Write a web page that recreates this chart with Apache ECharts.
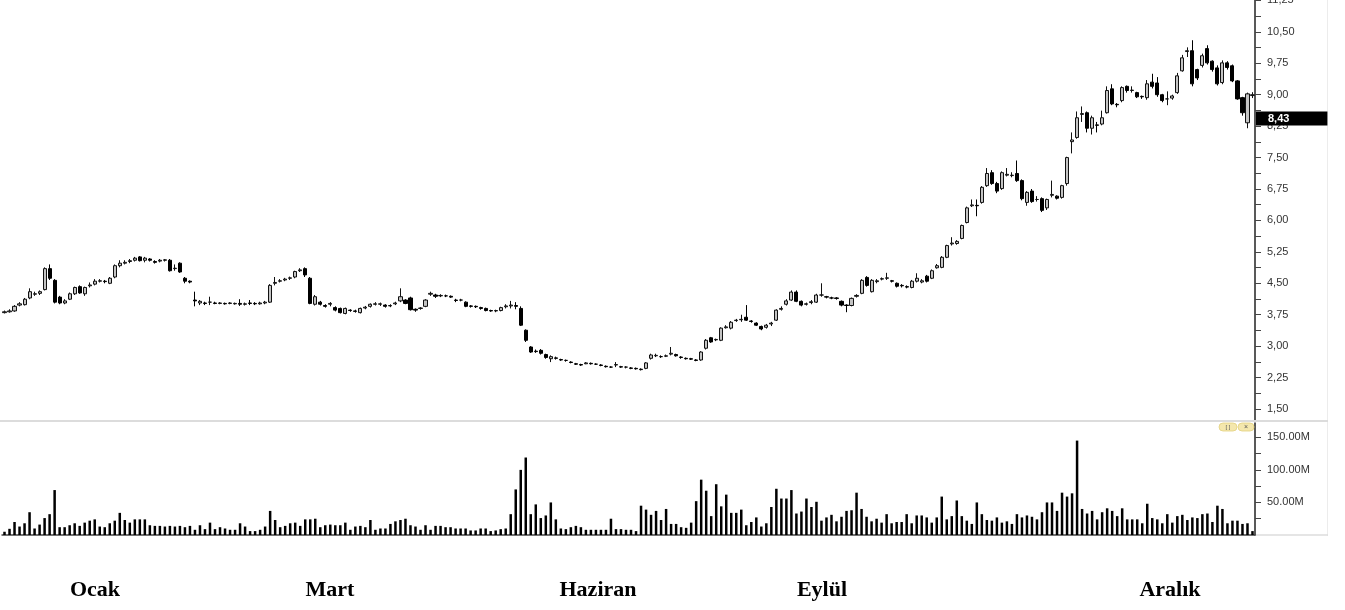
<!DOCTYPE html>
<html><head><meta charset="utf-8">
<script src="https://cdn.jsdelivr.net/npm/echarts@6/dist/echarts.min.js"></script>
<style>html,body{margin:0;padding:0;background:#fff}#c{width:1345px;height:610px}</style>
</head><body><div id="c"></div>
<script>
// ---- data ----
const opens = [
3.80,3.82,3.84,3.98,3.99,4.15,4.24,4.26,4.35,4.85,
4.57,4.17,4.03,4.12,4.25,4.42,4.25,4.44,4.48,4.55,
4.55,4.50,4.65,4.92,4.98,5.02,5.05,5.13,5.05,5.08,
5.02,5.03,5.05,5.05,4.85,4.98,4.62,4.55,4.10,4.03,
4.03,4.05,4.03,4.02,4.02,4.02,4.01,4.02,4.00,4.03,
4.02,4.01,4.03,4.05,4.50,4.55,4.58,4.62,4.65,4.80,
4.85,4.62,4.00,4.05,3.97,4.00,3.92,3.90,3.78,3.86,
3.84,3.80,3.91,3.95,4.00,4.00,3.98,3.96,4.01,4.08,
4.10,4.15,3.88,3.90,3.95,4.24,4.22,4.20,4.20,4.19,
4.10,4.10,4.05,3.96,3.95,3.92,3.90,3.85,3.84,3.85,
3.94,3.96,3.97,3.90,3.38,2.98,2.88,2.90,2.80,2.70,
2.72,2.68,2.66,2.62,2.58,2.56,2.58,2.59,2.57,2.55,
2.52,2.50,2.55,2.51,2.50,2.48,2.47,2.45,2.47,2.71,
2.77,2.75,2.76,2.81,2.80,2.74,2.71,2.70,2.67,2.67,
2.95,3.20,3.15,3.14,3.44,3.43,3.61,3.63,3.69,3.60,
3.55,3.47,3.45,3.53,3.62,3.88,4.00,4.10,4.29,4.07,
4.00,4.04,4.05,4.22,4.18,4.15,4.15,4.07,3.98,3.97,
4.19,4.26,4.64,4.30,4.54,4.60,4.62,4.56,4.50,4.45,
4.42,4.40,4.55,4.53,4.67,4.62,4.87,4.88,5.12,5.44,
5.45,5.57,5.95,6.35,6.36,6.43,6.83,7.14,6.88,6.76,
7.08,7.07,7.12,6.95,6.43,6.70,6.50,6.52,6.30,6.60,
6.58,6.55,6.88,7.88,7.98,8.53,8.57,8.20,8.28,8.30,
8.57,9.14,8.77,8.86,9.20,9.10,9.05,8.96,8.93,9.30,
9.28,9.00,8.90,8.92,9.05,9.57,10.03,10.05,9.60,9.70,
10.10,9.80,9.64,9.29,9.76,9.69,9.33,8.93,8.33,8.98
];
const closes = [
3.82,3.84,3.95,4.01,4.12,4.30,4.25,4.30,4.85,4.62,
4.05,4.03,4.08,4.25,4.40,4.27,4.40,4.46,4.55,4.56,
4.54,4.62,4.92,4.98,5.00,5.04,5.10,5.04,5.10,5.05,
5.00,5.05,5.06,4.80,4.86,4.77,4.55,4.53,4.08,4.07,
4.02,4.05,4.02,4.03,4.01,4.03,4.02,4.00,4.01,4.02,
4.01,4.03,4.05,4.45,4.52,4.56,4.60,4.63,4.78,4.82,
4.70,4.02,4.18,4.00,3.95,4.02,3.86,3.80,3.90,3.85,
3.83,3.90,3.93,4.00,4.01,4.01,3.95,3.97,4.03,4.18,
4.02,3.87,3.86,3.91,4.10,4.26,4.19,4.21,4.20,4.17,
4.09,4.10,3.95,3.95,3.94,3.90,3.85,3.84,3.85,3.92,
3.96,3.98,3.95,3.50,3.14,2.86,2.87,2.83,2.73,2.75,
2.71,2.67,2.66,2.61,2.57,2.55,2.60,2.58,2.57,2.54,
2.51,2.50,2.56,2.50,2.50,2.47,2.46,2.44,2.60,2.79,
2.78,2.75,2.77,2.83,2.77,2.73,2.70,2.69,2.66,2.86,
3.14,3.10,3.16,3.43,3.46,3.57,3.62,3.64,3.62,3.59,
3.50,3.41,3.50,3.55,3.86,3.90,4.08,4.29,4.07,3.98,
4.01,4.06,4.22,4.22,4.17,4.15,4.14,3.98,3.97,4.14,
4.21,4.57,4.45,4.57,4.56,4.61,4.63,4.55,4.43,4.44,
4.41,4.55,4.62,4.56,4.55,4.80,4.92,5.12,5.40,5.46,
5.50,5.88,6.30,6.37,6.35,6.79,7.12,6.88,6.70,7.14,
7.10,7.08,6.95,6.52,6.67,6.45,6.50,6.24,6.50,6.62,
6.53,6.83,7.50,7.92,8.45,8.55,8.20,8.45,8.27,8.45,
9.10,8.78,8.76,9.17,9.10,9.11,8.95,8.95,9.26,9.20,
9.00,8.86,8.90,8.97,9.45,9.88,10.05,9.26,9.40,9.93,
9.76,9.60,9.26,9.76,9.65,9.33,8.90,8.57,9.02,9.00
];
const lows = [
3.78,3.80,3.82,3.95,3.97,4.12,4.20,4.22,4.33,4.58,
4.02,4.00,4.00,4.10,4.22,4.25,4.20,4.40,4.45,4.52,
4.50,4.48,4.62,4.88,4.95,4.98,5.02,5.02,5.00,5.02,
4.97,5.00,5.02,4.78,4.80,4.75,4.50,4.50,3.95,3.98,
3.98,3.98,4.00,4.00,3.99,4.00,3.99,3.96,3.97,3.98,
3.98,3.99,4.00,4.03,4.45,4.52,4.55,4.58,4.62,4.77,
4.65,4.00,3.97,3.97,3.92,3.95,3.83,3.78,3.76,3.82,
3.80,3.78,3.88,3.92,3.97,3.96,3.92,3.93,3.98,4.05,
4.00,3.85,3.82,3.87,3.93,4.20,4.15,4.17,4.17,4.15,
4.05,4.07,3.93,3.92,3.91,3.87,3.83,3.82,3.81,3.83,
3.90,3.90,3.88,3.48,3.10,2.84,2.84,2.80,2.70,2.62,
2.68,2.65,2.63,2.59,2.55,2.53,2.57,2.56,2.55,2.52,
2.49,2.48,2.50,2.48,2.47,2.45,2.44,2.42,2.45,2.68,
2.74,2.72,2.74,2.78,2.75,2.70,2.68,2.67,2.64,2.65,
2.92,3.08,3.12,3.12,3.42,3.40,3.58,3.58,3.60,3.56,
3.48,3.38,3.42,3.48,3.60,3.85,3.97,4.08,4.05,3.95,
3.97,4.00,4.03,4.18,4.14,4.12,4.11,3.95,3.81,3.95,
4.16,4.24,4.42,4.28,4.50,4.57,4.58,4.52,4.40,4.40,
4.38,4.38,4.52,4.50,4.52,4.60,4.85,4.86,5.10,5.40,
5.42,5.55,5.93,6.32,6.10,6.40,6.80,6.85,6.65,6.73,
7.05,7.03,6.92,6.48,6.35,6.42,6.45,6.20,6.25,6.55,
6.50,6.52,6.83,7.60,7.95,8.35,8.10,8.05,8.10,8.27,
8.55,8.75,8.70,8.82,9.05,9.05,8.92,8.90,8.88,9.15,
8.95,8.82,8.75,8.88,9.02,9.55,9.90,9.20,9.35,9.65,
9.72,9.55,9.22,9.25,9.60,9.30,8.88,8.50,8.20,8.92
];
const highs = [
3.85,3.88,3.98,4.05,4.15,4.38,4.30,4.33,4.88,4.95,
4.60,4.20,4.12,4.28,4.42,4.45,4.42,4.52,4.60,4.60,
4.58,4.65,4.95,5.05,5.05,5.08,5.13,5.15,5.13,5.10,
5.05,5.08,5.08,5.08,4.95,5.00,4.65,4.57,4.30,4.10,
4.06,4.18,4.06,4.05,4.04,4.05,4.04,4.12,4.04,4.10,
4.05,4.06,4.08,4.48,4.65,4.60,4.63,4.66,4.80,4.86,
4.88,4.65,4.22,4.08,4.00,4.05,3.95,3.92,3.92,3.88,
3.87,3.92,3.96,4.02,4.05,4.04,4.00,4.00,4.06,4.38,
4.12,4.18,3.90,3.93,4.12,4.30,4.25,4.24,4.23,4.21,
4.13,4.13,4.07,3.98,3.97,3.94,3.92,3.87,3.87,3.94,
4.00,4.08,4.05,3.95,3.40,3.00,2.92,2.93,2.82,2.78,
2.75,2.70,2.68,2.64,2.60,2.58,2.62,2.61,2.59,2.57,
2.54,2.52,2.62,2.53,2.52,2.50,2.49,2.47,2.62,2.82,
2.82,2.78,2.80,2.98,2.82,2.76,2.73,2.72,2.69,2.88,
3.17,3.22,3.18,3.45,3.50,3.60,3.65,3.75,3.98,3.62,
3.57,3.49,3.53,3.58,3.88,3.95,4.12,4.33,4.33,4.09,
4.04,4.10,4.25,4.50,4.20,4.18,4.17,4.09,4.00,4.16,
4.24,4.60,4.67,4.60,4.60,4.64,4.75,4.58,4.52,4.48,
4.45,4.58,4.74,4.60,4.70,4.83,4.96,5.15,5.42,5.60,
5.53,5.90,6.33,6.50,6.50,6.82,7.25,7.20,6.92,7.17,
7.25,7.15,7.43,6.98,6.70,6.75,6.58,6.55,6.52,6.95,
6.60,6.85,7.52,8.10,8.60,8.72,8.60,8.50,8.35,8.62,
9.20,9.25,8.80,9.20,9.22,9.20,9.07,8.98,9.35,9.50,
9.42,9.02,9.08,9.00,9.52,9.95,10.13,10.30,9.62,9.98,
10.18,9.82,9.70,9.82,9.80,9.72,9.35,8.95,9.05,9.06
];
// volume, millions
const volumes = [
5,9.5,20,13,18,35,10,16,26,32,
69,12,12,15,18,14,19,22,24,13,
12,18,22,34,23,19,24,24,24,15,
14,14,13,14,13,14,12,14,8,15,
9,19,9,12,10,8,8,18,13,6,
6,8,13,37,23,12,14,18,19,14,
24,24,25,12,15,16,15,15,19,8,
13,14,12,23,8,10,10,17,21,23,
25,15,13,8,15,8,14,14,12,12,
10,10,10,7,7,10,10,6,7,9,
10,32,70,100,119,32,47,26,30,50,
24,10,9,12,14,12,8,8,8,8,
8,25,9,9,8,8,6,45,39,31,
37,23,40,17,17,12,11,19,52,85,
68,29,78,44,62,34,34,39,15,20,
27,13,18,43,71,56,56,69,33,36,
56,43,51,22,27,31,21,28,37,38,
65,40,28,21,25,19,32,18,20,20,
32,18,30,30,27,19,27,59,24,29,
53,29,22,17,50,32,23,22,27,19,
21,17,32,27,30,28,24,35,50,50,
37,65,59,64,145,40,33,37,24,35,
41,37,29,41,24,24,24,18,48,26,
24,18,32,19,29,31,23,27,26,32,
33,20,45,40,18,22,22,17,18,6
];
const days = opens.map((_, i) => 'G' + (i + 1));
const priceTicks = [1.5,2.25,3.0,3.75,4.5,5.25,6.0,6.75,7.5,8.25,9.0,9.75,10.5,11.25];
const priceMinorTicks = [1.5,1.875,2.25,2.625,3.0,3.375,3.75,4.125,4.5,4.875,5.25,5.625,6.0,6.375,6.75,7.125,7.5,7.875,8.25,8.625,9.0,9.375,9.75,10.125,10.5,10.875,11.25];
const volumeTicks = [50,100,150];
const volumeMinorTicks = [25,50,75,100,125,150];
const monthLabels = ['Ocak','Mart','Haziran','Eylül','Aralık'];
const lastPrice = 8.43;

// ---- layout ----
const monthX = [95, 330, 598, 822, 1170];
const candles = opens.map((o, i) => [o, closes[i], lows[i], highs[i]]);
const fmtPrice = v => v.toFixed(2).replace('.', ',');

const chart = echarts.init(document.getElementById('c'), null, {renderer: 'canvas'});
chart.setOption({
  animation: false,
  backgroundColor: '#fff',
  grid: [
    {left: 2, right: 90, top: 0, height: 421, outerBoundsMode: 'none', containLabel: false},
    {left: 2, right: 90, top: 423, height: 112, outerBoundsMode: 'none', containLabel: false}
  ],
  xAxis: [
    {type: 'category', data: days, gridIndex: 0, show: false, boundaryGap: true},
    {type: 'category', data: days, gridIndex: 1, boundaryGap: true,
     axisLine: {show: true, lineStyle: {color: '#444', width: 1.5}},
     axisTick: {show: false}, axisLabel: {show: false}, splitLine: {show: false}}
  ],
  yAxis: [
    {type: 'value', gridIndex: 0, position: 'right', min: 1.214, max: 11.26,
     axisLine: {show: true, lineStyle: {color: '#222', width: 1.5}},
     axisTick: {show: true, length: 6, customValues: priceMinorTicks, lineStyle: {color: '#444'}},
     axisLabel: {customValues: priceTicks, formatter: fmtPrice, color: '#333', fontSize: 11,
                 fontFamily: 'Liberation Sans, Arial, sans-serif', margin: 12},
     splitLine: {show: false}},
    {type: 'value', gridIndex: 1, position: 'right', min: 0, max: 172,
     axisLine: {show: true, lineStyle: {color: '#222', width: 1.5}},
     axisTick: {show: true, length: 6, customValues: volumeMinorTicks, lineStyle: {color: '#444'}},
     axisLabel: {customValues: volumeTicks, formatter: v => v.toFixed(2) + 'M', color: '#333', fontSize: 11,
                 fontFamily: 'Liberation Sans, Arial, sans-serif', margin: 12},
     splitLine: {show: false}}
  ],
  series: [
    {type: 'candlestick', xAxisIndex: 0, yAxisIndex: 0, data: candles, barWidth: 3.6,
     itemStyle: {color: '#c4c4c4', color0: '#000', borderColor: '#111', borderColor0: '#000', borderWidth: 1},
     markLine: {silent: true, symbol: ['none', 'none'], data: [{yAxis: lastPrice}],
       lineStyle: {width: 1, color: 'rgba(0,0,0,0)', type: 'solid'},
       label: {show: true, position: 'end', distance: 1, formatter: fmtPrice(lastPrice),
               backgroundColor: '#000', color: '#fff', fontSize: 11, fontWeight: 'bold',
               fontFamily: 'Liberation Sans, Arial, sans-serif', padding: [2, 38, 1, 12]}}},
    {type: 'bar', xAxisIndex: 1, yAxisIndex: 1, data: volumes, barWidth: 2.5,
     itemStyle: {color: '#000'}}
  ],
  graphic: [
    {type: 'line', shape: {x1: 0, y1: 421, x2: 1328, y2: 421}, style: {stroke: '#dcdcdc', lineWidth: 2}, z: 1},
    {type: 'line', shape: {x1: 1327.5, y1: 0, x2: 1327.5, y2: 536}, style: {stroke: '#ececec', lineWidth: 1}, z: 0},
    {type: 'line', shape: {x1: 1256, y1: 535, x2: 1328, y2: 535}, style: {stroke: '#dcdcdc', lineWidth: 1.5}, z: 0},
    {type: 'rect', shape: {x: 1219, y: 423, width: 18, height: 8, r: 4}, style: {fill: '#f4e7ad', stroke: '#e3d27f', lineWidth: 0.8}, z: 10},
    {type: 'text', x: 1228, y: 427, style: {text: '[ ]', fill: '#555', font: '6px sans-serif', align: 'center', verticalAlign: 'middle'}, z: 11},
    {type: 'rect', shape: {x: 1238, y: 423, width: 16, height: 8, r: 4}, style: {fill: '#f4e7ad', stroke: '#e3d27f', lineWidth: 0.8}, z: 10},
    {type: 'text', x: 1246, y: 427, style: {text: '×', fill: '#555', font: '7px sans-serif', align: 'center', verticalAlign: 'middle'}, z: 11}
  ].concat(monthLabels.map((m, k) => ({
    type: 'text', x: monthX[k], y: 590,
    style: {text: m, fill: '#000', font: 'bold 22px "Liberation Serif", "Times New Roman", serif',
            align: 'center', verticalAlign: 'middle'}
  })))
});
</script>
</body></html>
